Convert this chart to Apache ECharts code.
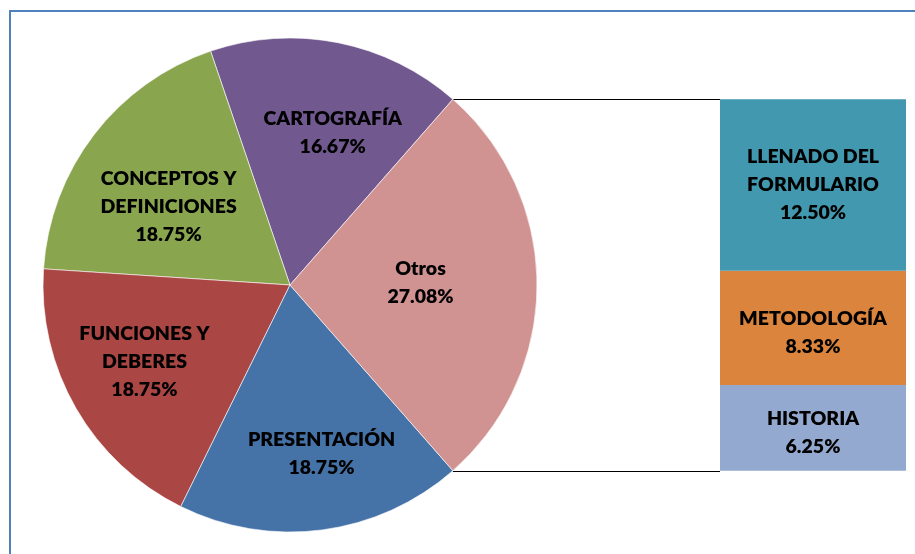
<!DOCTYPE html>
<html>
<head>
<meta charset="utf-8">
<script src="https://cdn.jsdelivr.net/npm/echarts@6/dist/echarts.min.js"></script>
<style>
html,body{margin:0;padding:0;background:#fff;}
#c{width:915px;height:554px;}
</style>
</head>
<body>
<div id="c"></div>
<script>
// ---- data ----
const pieNames = ['CARTOGRAFÍA', 'CONCEPTOS Y\nDEFINICIONES', 'FUNCIONES Y\nDEBERES', 'PRESENTACIÓN', 'Otros'];
const pieValues = [16.67, 18.75, 18.75, 18.75, 27.08];
const barNames = ['LLENADO DEL\nFORMULARIO', 'METODOLOGÍA', 'HISTORIA'];
const barValues = [12.50, 8.33, 6.25];

// ---- styles ----
const pieColors = ['#71588F', '#89A54E', '#AA4643', '#4572A7', '#D19392'];
const barColors = ['#4198AF', '#DB843D', '#93A9CF'];
const labelShift = [[18, -28], [-21, -1], [-36, 13], [15, 43], [4, -2]];
const barLabelShift = [[0, 0], [0, 5], [0, 5]];
const FONT = 'Lato';
const WEIGHT = 800;
const FSIZE = 19.5;

const cx = 290, cy = 285, R = 247;
const otros = pieValues[pieValues.length - 1];
const halfAngle = otros / 100 * 360 / 2; // otros centered at 3 o'clock
const gridLeft = 720, gridW = 186;
const barTotal = barValues.reduce((a, b) => a + b, 0);

const chart = echarts.init(document.getElementById('c'));

const barSeries = [];
for (let i = barValues.length - 1; i >= 0; i--) {
  barSeries.push({
    type: 'bar',
    name: barNames[i],
    stack: 'o',
    barWidth: '100%',
    data: [barValues[i]],
    itemStyle: { color: barColors[i] },
    label: {
      show: true,
      position: 'inside',
      offset: barLabelShift[i],
      color: '#000',
      fontFamily: FONT,
      fontWeight: WEIGHT,
      fontSize: FSIZE,
      lineHeight: 28,
      formatter: () => barNames[i] + '\n' + barValues[i].toFixed(2) + '%'
    },
    silent: true
  });
}

const a = halfAngle * Math.PI / 180;
const px = cx + R * Math.cos(a);
const pyTop = cy - R * Math.sin(a);
const pyBot = cy + R * Math.sin(a);
const lineTop = Math.round(pyTop) + 0.5;
const lineBot = Math.round(pyBot) + 0.5;

chart.setOption({
  animation: false,
  backgroundColor: '#fff',
  grid: { left: gridLeft, top: pyTop, width: gridW, height: pyBot - pyTop },
  xAxis: { type: 'category', data: [''], show: false },
  yAxis: { type: 'value', min: 0, max: barTotal, show: false },
  graphic: [
    { type: 'rect', shape: { x: 10, y: 11, width: 1200, height: 1200 }, style: { fill: 'none', stroke: '#4F81BD', lineWidth: 2 }, silent: true },
    { type: 'line', shape: { x1: px, y1: lineTop, x2: gridLeft, y2: lineTop }, style: { stroke: '#000', lineWidth: 1 }, silent: true },
    { type: 'line', shape: { x1: px, y1: lineBot, x2: gridLeft, y2: lineBot }, style: { stroke: '#000', lineWidth: 1 }, silent: true }
  ],
  series: [
    {
      type: 'pie',
      center: [cx, cy],
      radius: [0, R],
      startAngle: halfAngle,
      clockwise: false,
      avoidLabelOverlap: false,
      silent: true,
      itemStyle: { borderColor: '#fff', borderWidth: 0.6 },
      label: {
        show: true,
        position: 'inside',
        color: '#000',
        fontFamily: FONT,
        fontWeight: WEIGHT,
        fontSize: FSIZE,
        lineHeight: 28,
        formatter: p => p.name + '\n' + p.value.toFixed(2) + '%'
      },
      labelLayout: p => ({ dx: labelShift[p.dataIndex][0], dy: labelShift[p.dataIndex][1] }),
      data: pieNames.map((n, i) => ({ name: n, value: pieValues[i], itemStyle: { color: pieColors[i] } }))
    }
  ].concat(barSeries)
});
</script>
</body>
</html>
